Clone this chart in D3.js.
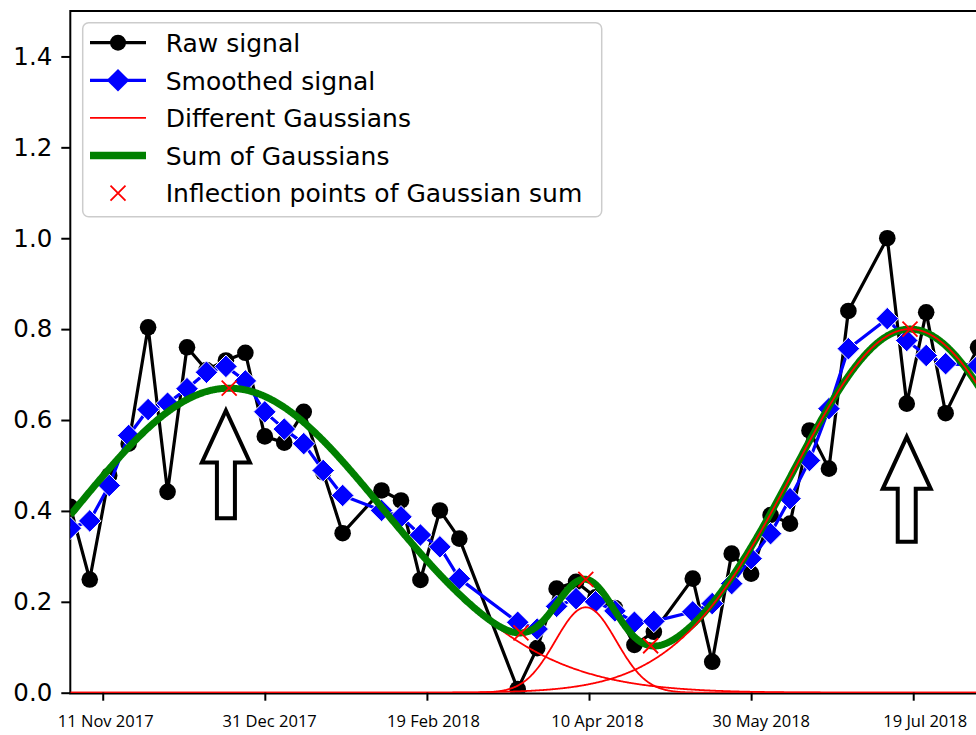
<!DOCTYPE html>
<html>
<head>
<meta charset="utf-8">
<script src="https://cdn.jsdelivr.net/npm/d3@7"></script>
<style>
  body { margin: 0; background: #fff; }
  svg { display: block; }
</style>
</head>
<body>
<svg id="chart" width="976" height="735"></svg>
<script>
// Observation dates (6-day revisit, some acquisitions missing)
const obsDates = [
  "2017-11-01","2017-11-07","2017-11-13","2017-11-19","2017-11-25","2017-12-01",
  "2017-12-07","2017-12-13","2017-12-19","2017-12-25","2017-12-31","2018-01-06",
  "2018-01-12","2018-01-18","2018-01-24","2018-02-05","2018-02-11","2018-02-17",
  "2018-02-23","2018-03-01","2018-03-19","2018-03-25","2018-03-31","2018-04-06",
  "2018-04-12","2018-04-18","2018-04-24","2018-04-30","2018-05-12","2018-05-18",
  "2018-05-24","2018-05-30","2018-06-05","2018-06-11","2018-06-17","2018-06-23",
  "2018-06-29","2018-07-11","2018-07-17","2018-07-23","2018-07-29","2018-08-08"
];
// Normalised raw index values
const rawSignal = [
  0.409, 0.249, 0.478, 0.548, 0.804, 0.442,
  0.760, 0.710, 0.731, 0.748, 0.564, 0.550,
  0.618, 0.485, 0.351, 0.445, 0.423, 0.248,
  0.401, 0.339, 0.008, 0.098, 0.229, 0.244,
  0.210, 0.186, 0.105, 0.134, 0.251, 0.068,
  0.306, 0.262, 0.391, 0.372, 0.577, 0.493,
  0.840, 1.000, 0.636, 0.837, 0.615, 0.760
];
// Smoothed values at the same dates
const smoothedSignal = [
  0.362, 0.378, 0.456, 0.566, 0.623, 0.637,
  0.669, 0.705, 0.718, 0.686, 0.618, 0.580,
  0.548, 0.489, 0.434, 0.401, 0.387, 0.347,
  0.321, 0.251, 0.155, 0.140, 0.190, 0.207,
  0.200, 0.180, 0.155, 0.157, 0.178, 0.196,
  0.240, 0.295, 0.350, 0.427, 0.511, 0.625,
  0.757, 0.823, 0.775, 0.742, 0.724, 0.720
];
// Fitted Gaussian components: centre date, amplitude, standard deviation (days)
const gaussCenters = ["2017-12-20", "2018-04-09", "2018-07-18"];
const gaussAmplitudes = [0.67, 0.188, 0.80];
const gaussSigmaDays = [47.2, 9.4, 36.1];
// Dates of the marked turning points of the Gaussian sum
const inflectionDates = ["2017-12-20", "2018-03-20", "2018-04-09", "2018-04-29", "2018-07-18"];
// Annotation arrows pointing at the two seasonal peaks
const arrowDates = ["2017-12-19", "2018-07-17"];
const arrowTipValues = [0.621, 0.563];
const arrowTailValues = [0.384, 0.332];
// Axis ticks
const xTickDates = ["2017-11-11", "2017-12-31", "2018-02-19", "2018-04-10", "2018-05-30", "2018-07-19"];
const yTicks = [0.0, 0.2, 0.4, 0.6, 0.8, 1.0, 1.2, 1.4];
const legendLabels = ["Raw signal", "Smoothed signal", "Different Gaussians", "Sum of Gaussians",
                      "Inflection points of Gaussian sum"];

(function () {
const parse = d3.utcParse("%Y-%m-%d");
const DAY = 864e5;

const svg = d3.select("#chart");
const plotLeft = 70.3, plotTop = 11, plotBottom = 692.7;
const pxPerDay = 3.242;
const xStart = parse("2017-11-01"), xEnd = parse("2018-08-15");
const plotRight = plotLeft + (xEnd - xStart) / DAY * pxPerDay;

const x = d3.scaleUtc().domain([xStart, xEnd]).range([plotLeft, plotRight]);
const y = d3.scaleLinear().domain([0, 1.5]).range([plotBottom, plotTop]);

const obs = obsDates.map((d, i) => ({ t: parse(d), raw: rawSignal[i], sm: smoothedSignal[i] }));
const centers = gaussCenters.map(parse);

function gauss(t, i) {
  const d = (t - centers[i]) / DAY;
  return gaussAmplitudes[i] * Math.exp(-d * d / (2 * gaussSigmaDays[i] * gaussSigmaDays[i]));
}
function gaussSum(t) {
  let s = 0;
  for (let i = 0; i < centers.length; i++) s += gauss(t, i);
  return s;
}
const grid = d3.range(+xStart, +xEnd + DAY, DAY / 4).map(v => new Date(v));

// clip region = axes area
svg.append("defs").append("clipPath").attr("id", "plotClip")
  .append("rect").attr("x", plotLeft).attr("y", plotTop)
  .attr("width", plotRight - plotLeft).attr("height", plotBottom - plotTop);

// spines
const spines = svg.append("g").attr("stroke", "#000").attr("stroke-width", 2);
spines.append("line").attr("x1", plotLeft).attr("x2", plotLeft).attr("y1", plotTop - 1).attr("y2", plotBottom + 1);
spines.append("line").attr("x1", plotLeft).attr("x2", plotRight).attr("y1", plotTop).attr("y2", plotTop);
spines.append("line").attr("x1", plotLeft - 1).attr("x2", plotRight).attr("y1", plotBottom + 0.8).attr("y2", plotBottom + 0.8);

const plot = svg.append("g").attr("clip-path", "url(#plotClip)");

const lineT = (acc) => d3.line().x(d => x(d.t)).y(d => y(acc(d)));

// raw signal
plot.append("path").datum(obs)
  .attr("d", lineT(d => d.raw))
  .attr("fill", "none").attr("stroke", "#000").attr("stroke-width", 3.2).attr("stroke-linejoin", "round");
plot.append("g").selectAll("circle").data(obs).join("circle")
  .attr("cx", d => x(d.t)).attr("cy", d => y(d.raw)).attr("r", 8.3).attr("fill", "#000");

// smoothed signal
const diamond = h => `M0,${-h}L${h},0L0,${h}L${-h},0Z`;
plot.append("path").datum(obs)
  .attr("d", lineT(d => d.sm))
  .attr("fill", "none").attr("stroke", "#0000ff").attr("stroke-width", 3.2).attr("stroke-linejoin", "round");
plot.append("g").selectAll("path").data(obs).join("path")
  .attr("d", diamond(11.3))
  .attr("transform", d => `translate(${x(d.t)},${y(d.sm)})`)
  .attr("fill", "#0000ff").attr("stroke", "#fff").attr("stroke-width", 1);

const curve = (f) => d3.line().x(t => x(t)).y(t => y(f(t)));

// first Gaussian component, then the sum, then the remaining components
plot.append("path").datum(grid).attr("d", curve(t => gauss(t, 0)))
  .attr("fill", "none").attr("stroke", "#ff0000").attr("stroke-width", 1.8);
plot.append("path").datum(grid).attr("d", curve(gaussSum))
  .attr("fill", "none").attr("stroke", "#008000").attr("stroke-width", 7);
for (let i = 1; i < centers.length; i++) {
  plot.append("path").datum(grid).attr("d", curve(t => gauss(t, i)))
    .attr("fill", "none").attr("stroke", "#ff0000").attr("stroke-width", 1.8);
}

// x markers on the Gaussian sum
const xMark = s => `M${-s},${-s}L${s},${s}M${-s},${s}L${s},${-s}`;
plot.append("g").selectAll("path").data(inflectionDates.map(parse)).join("path")
  .attr("d", xMark(7.5))
  .attr("transform", t => `translate(${x(t)},${y(gaussSum(t))})`)
  .attr("fill", "none").attr("stroke", "#ff0000").attr("stroke-width", 1.8);

// hollow arrows
const arrows = arrowDates.map((d, i) => ({ t: parse(d), tip: arrowTipValues[i], tail: arrowTailValues[i] }));
svg.append("g").selectAll("path").data(arrows).join("path")
  .attr("d", a => {
    const cx = x(a.t), yt = y(a.tip), yb = y(a.tail);
    const hw = 24, hl = 52, sw = 9;
    return `M${cx},${yt}L${cx + hw},${yt + hl}L${cx + sw},${yt + hl}L${cx + sw},${yb}` +
           `L${cx - sw},${yb}L${cx - sw},${yt + hl}L${cx - hw},${yt + hl}Z`;
  })
  .attr("fill", "#fff").attr("stroke", "#000").attr("stroke-width", 4).attr("stroke-linejoin", "miter");

// axes
const xAxis = svg.append("g").attr("transform", `translate(0,${plotBottom})`)
  .call(d3.axisBottom(x).tickValues(xTickDates.map(parse))
    .tickFormat(d3.utcFormat("%d %b %Y")).tickSize(8).tickSizeOuter(0));
xAxis.select(".domain").remove();
xAxis.selectAll(".tick line").attr("stroke", "#000").attr("stroke-width", 2);
xAxis.selectAll(".tick text")
  .attr("y", 34).attr("dy", 0)
  .attr("dx", (d, i) => 2.5 + 1.8 * i)
  .attr("fill", "#000")
  .style("font-family", "'Open Sans', sans-serif").style("font-size", "16.5px");

const yAxis = svg.append("g").attr("transform", `translate(${plotLeft},0)`)
  .call(d3.axisLeft(y).tickValues(yTicks).tickFormat(d3.format(".1f")).tickSize(9).tickPadding(9).tickSizeOuter(0));
yAxis.select(".domain").remove();
yAxis.selectAll(".tick line").attr("stroke", "#000").attr("stroke-width", 2);
yAxis.selectAll(".tick text").attr("fill", "#000")
  .style("font-family", "'DejaVu Sans', sans-serif").style("font-size", "24.5px");

// legend
const lg = svg.append("g");
lg.append("rect").attr("x", 82.7).attr("y", 22.7).attr("width", 519).attr("height", 194)
  .attr("rx", 6).attr("fill", "#fff").attr("fill-opacity", 0.85)
  .attr("stroke", "#cccccc").attr("stroke-width", 1.5);
const rowY = i => 42.7 + 37.6 * i;
const hx0 = 90, hx1 = 146, hxc = 118, tx = 165.7;
lg.append("line").attr("x1", hx0).attr("x2", hx1).attr("y1", rowY(0)).attr("y2", rowY(0))
  .attr("stroke", "#000").attr("stroke-width", 3.2);
lg.append("circle").attr("cx", hxc).attr("cy", rowY(0)).attr("r", 8).attr("fill", "#000");
lg.append("line").attr("x1", hx0).attr("x2", hx1).attr("y1", rowY(1)).attr("y2", rowY(1))
  .attr("stroke", "#0000ff").attr("stroke-width", 3.2);
lg.append("path").attr("d", diamond(11.3)).attr("transform", `translate(${hxc},${rowY(1)})`)
  .attr("fill", "#0000ff");
lg.append("line").attr("x1", hx0).attr("x2", hx1).attr("y1", rowY(2)).attr("y2", rowY(2))
  .attr("stroke", "#ff0000").attr("stroke-width", 1.8);
lg.append("line").attr("x1", hx0).attr("x2", hx1).attr("y1", rowY(3)).attr("y2", rowY(3))
  .attr("stroke", "#008000").attr("stroke-width", 7.5);
lg.append("path").attr("d", xMark(7.5)).attr("transform", `translate(${hxc},${rowY(4)})`)
  .attr("fill", "none").attr("stroke", "#ff0000").attr("stroke-width", 1.8);
lg.selectAll("text").data(legendLabels).join("text")
  .attr("x", tx).attr("y", (d, i) => rowY(i) + 9.2)
  .attr("fill", "#000")
  .style("font-family", "'DejaVu Sans', sans-serif").style("font-size", "25px")
  .text(d => d);
})();
</script>
</body>
</html>
